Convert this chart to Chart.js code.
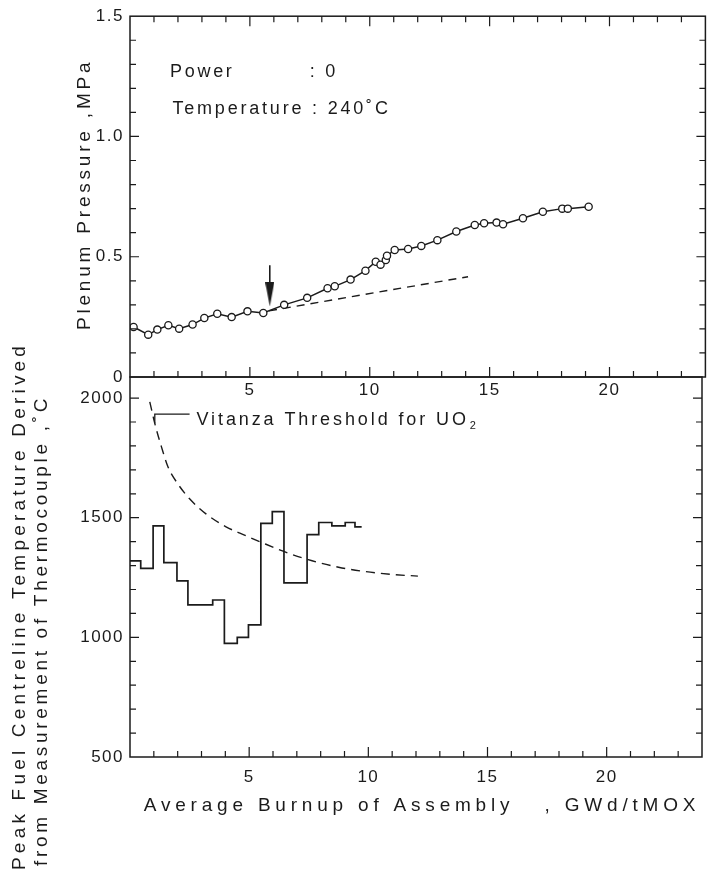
<!DOCTYPE html>
<html lang="en">
<head>
<meta charset="UTF-8">
<title>Plenum pressure and peak fuel centreline temperature vs burnup</title>
<script src="https://cdn.jsdelivr.net/npm/chart.js"></script>
<style>
  body { margin: 0; background: #fff; }
  #wrap { position: relative; width: 712px; height: 875px; }
  canvas { position: absolute; left: 0; }
</style>
</head>
<body>
<div id="wrap">
  <canvas id="pressureChart" width="712" height="405" style="top:0"></canvas>
  <canvas id="tempChart" width="712" height="555" style="top:320px"></canvas>
</div>
<script>
// plenum pressure (MPa) vs average assembly burnup (GWd/tMOX)
const pressBurnup = [0.15, 0.76, 1.14, 1.6, 2.05, 2.61, 3.1, 3.64, 4.24, 4.9, 5.56, 6.43, 7.39, 8.24, 8.54,
  9.2, 9.82, 10.25, 10.45, 10.67, 10.72, 11.04, 11.6, 12.15, 12.82, 13.61, 14.38, 14.77, 15.29, 15.56,
  16.39, 17.22, 18.03, 18.26, 19.13];
const pressure = [0.208, 0.176, 0.197, 0.215, 0.201, 0.218, 0.245, 0.263, 0.249, 0.273, 0.266, 0.300, 0.329, 0.369, 0.377,
  0.405, 0.442, 0.479, 0.467, 0.486, 0.504, 0.528, 0.532, 0.545, 0.569, 0.605, 0.632, 0.639, 0.642, 0.635,
  0.660, 0.687, 0.700, 0.700, 0.708];

// extrapolation of the early pressure rise
const trendBurnup = [5.8, 14.1];
const trendPressure = [0.275, 0.417];

// arrow at onset of fission gas release
const arrowBurnup = [5.83, 5.83];
const arrowPressure = [0.465, 0.343];

// peak fuel centreline temperature, step history
const stepBurnup = [0, 0.45, 0.97, 1.42, 1.97, 2.43, 3.47, 3.96, 4.5, 4.97, 5.49, 5.97, 6.46, 7.43, 7.92, 8.47, 9.03, 9.44, 9.72];
const stepTemp = [1320, 1288, 1466, 1312, 1236, 1136, 1156, 975, 1000, 1052, 1476, 1525, 1228, 1429, 1480, 1466, 1480, 1462, 1462];

// Vitanza threshold for UO2
const vitBurnup = [0.83, 1.04, 1.32, 1.6, 2.01, 2.5, 3.2, 4.03, 4.86, 5.49, 6.53, 7.64, 8.75, 9.86, 10.97, 12.08];
const vitTemp = [1984, 1894, 1796, 1711, 1641, 1579, 1515, 1462, 1425, 1398, 1356, 1320, 1293, 1275, 1263, 1256];

// leader from label to threshold curve
const leaderBurnup = [1.04, 1.04, 2.5];
const leaderTemp = [1894, 1933, 1933];

const xTicks = [5, 10, 15, 20];
const pressTicks = [0, 0.5, 1.0, 1.5];
const tempTicks = [500, 1000, 1500, 2000];

const INK = '#1b1b1b';
const FONT = '"Liberation Sans", Arial, Helvetica, sans-serif';
Chart.defaults.font.family = FONT;
Chart.defaults.font.size = 17;
Chart.defaults.color = INK;

const pts = (xs, ys) => xs.map((x, i) => ({ x, y: ys[i] }));
const near = (v, step) => Math.abs(v / step - Math.round(v / step)) < 1e-6;

// narrow filled arrow head, pointing down
const arrowHead = document.createElement('canvas');
arrowHead.width = 9; arrowHead.height = 24;
(function () {
  const c = arrowHead.getContext('2d');
  c.fillStyle = INK;
  c.beginPath(); c.moveTo(0, 0); c.lineTo(9, 0); c.lineTo(4.5, 24); c.closePath(); c.fill();
})();

// letter spacing for library-drawn text
const tracking = {
  id: 'tracking',
  beforeUpdate(chart) { chart.ctx.letterSpacing = '1.5px'; },
  beforeDraw(chart) { chart.ctx.letterSpacing = '1.5px'; }
};

// frame round the plot with inward ticks
const boxTicks = {
  id: 'boxTicks',
  afterDraw(chart, args, opts) {
    const { ctx, chartArea: a, scales: { x, y } } = chart;
    ctx.save();
    ctx.strokeStyle = INK;
    ctx.lineWidth = 1.5;
    ctx.strokeRect(a.left, a.top, a.width, a.height);
    ctx.lineWidth = 1.2;
    ctx.beginPath();
    x.ticks.forEach(t => {
      if (t.value <= x.min || t.value >= x.max) return;
      const px = x.getPixelForValue(t.value);
      const len = near(t.value, 5) ? 10 : 6;
      ctx.moveTo(px, a.bottom); ctx.lineTo(px, a.bottom - len);
      if (opts.top) { ctx.moveTo(px, a.top); ctx.lineTo(px, a.top + len); }
    });
    y.ticks.forEach(t => {
      if (t.value <= y.min || t.value >= y.max) return;
      const py = y.getPixelForValue(t.value);
      const len = near(t.value, opts.yMajor) ? 9 : 6;
      ctx.moveTo(a.left, py); ctx.lineTo(a.left + len, py);
      ctx.moveTo(a.right, py); ctx.lineTo(a.right - len, py);
    });
    ctx.stroke();
    ctx.restore();
  }
};

function label(ctx, text, x, y, size, spacing, align) {
  ctx.font = size + 'px ' + FONT;
  ctx.letterSpacing = spacing + 'px';
  ctx.textAlign = align || 'left';
  ctx.fillText(text, x, y);
}

const pressureNotes = {
  id: 'pressureNotes',
  afterDraw(chart) {
    const { ctx, chartArea: a, scales: { x, y } } = chart;
    ctx.save();
    ctx.fillStyle = INK;
    ctx.textBaseline = 'middle';
    label(ctx, 'Power', x.getPixelForValue(1.67), y.getPixelForValue(1.269), 18, 2.7);
    label(ctx, ': 0', x.getPixelForValue(7.5), y.getPixelForValue(1.269), 18, 2.7);
    label(ctx, 'Temperature : 240˚C', x.getPixelForValue(1.77), y.getPixelForValue(1.112), 18, 2.8);
    ctx.translate(85, a.bottom - 47);
    ctx.rotate(-Math.PI / 2);
    label(ctx, 'Plenum Pressure ,MPa', 0, 0, 19, 3.8);
    ctx.restore();
  }
};

const tempNotes = {
  id: 'tempNotes',
  afterDraw(chart) {
    const { ctx, chartArea: a, scales: { x, y } } = chart;
    ctx.save();
    ctx.fillStyle = INK;
    ctx.textBaseline = 'middle';
    const lx = x.getPixelForValue(2.79), ly = y.getPixelForValue(1908);
    label(ctx, 'Vitanza Threshold for UO', lx, ly, 18, 2.9);
    const w = ctx.measureText('Vitanza Threshold for UO').width;
    label(ctx, '2', lx + w + 1, ly + 6, 11, 0);
    label(ctx, 'Average Burnup of Assembly   , GWd/tMOX', (a.left + a.right) / 2 + 6, a.bottom + 49, 19, 4.8, 'center');
    ctx.save();
    ctx.translate(20, a.bottom + 113);
    ctx.rotate(-Math.PI / 2);
    label(ctx, 'Peak Fuel Centreline Temperature Derived', 0, 0, 19, 4.2);
    ctx.restore();
    ctx.translate(42, a.bottom + 109);
    ctx.rotate(-Math.PI / 2);
    label(ctx, 'from Measurement of Thermocouple ,˚C', 0, 0, 19, 3.7);
    ctx.restore();
  }
};

function xScale(padding, height) {
  return {
    type: 'linear', min: 0, max: 24,
    grid: { display: false, drawTicks: false },
    border: { display: false },
    afterFit: s => { s.height = height; },
    ticks: {
      stepSize: 1, autoSkip: false, minRotation: 0, maxRotation: 0, padding: padding,
      callback: v => xTicks.includes(v) ? String(v) : ''
    }
  };
}

function yScale(min, max, step, padding, fmt) {
  return {
    type: 'linear', min: min, max: max,
    grid: { display: false, drawTicks: false },
    border: { display: false },
    afterFit: s => { s.width = 130; },
    afterBuildTicks: s => { s.ticks = s.ticks.filter(t => near(t.value, step)); },
    ticks: { stepSize: step, autoSkip: false, padding: padding, callback: fmt }
  };
}

new Chart(document.getElementById('pressureChart'), {
  type: 'line',
  data: {
    datasets: [{
      data: pts(pressBurnup, pressure),
      borderColor: INK, borderWidth: 1.5,
      pointRadius: 3.6, pointBorderWidth: 1.3,
      pointBackgroundColor: '#fff', pointBorderColor: INK
    }, {
      data: pts(trendBurnup, trendPressure),
      borderColor: INK, borderWidth: 1.4, borderDash: [8, 6], pointRadius: 0
    }, {
      data: pts(arrowBurnup, arrowPressure),
      borderColor: INK, borderWidth: 1.6,
      pointRadius: [0, 5], pointStyle: arrowHead
    }]
  },
  options: {
    responsive: false, animation: false,
    events: [],
    layout: { padding: { top: 14, right: 4, left: 0, bottom: 0 } },
    plugins: { legend: { display: false }, tooltip: { enabled: false }, boxTicks: { top: true, yMajor: 0.5 } },
    scales: {
      x: xScale(3, 28),
      y: yScale(0, 1.5, 0.1, 6, v => {
        const hit = pressTicks.find(p => Math.abs(p - v) < 1e-6);
        return hit === undefined ? '' : (hit === 0 ? '0' : hit.toFixed(1));
      })
    }
  },
  plugins: [tracking, boxTicks, pressureNotes]
});

new Chart(document.getElementById('tempChart'), {
  type: 'line',
  data: {
    datasets: [{
      data: pts(stepBurnup, stepTemp),
      stepped: 'before',
      borderColor: INK, borderWidth: 1.7, pointRadius: 0
    }, {
      data: pts(vitBurnup, vitTemp),
      cubicInterpolationMode: 'monotone',
      borderColor: INK, borderWidth: 1.4, borderDash: [9, 6], pointRadius: 0
    }, {
      data: pts(leaderBurnup, leaderTemp),
      borderColor: INK, borderWidth: 1.3, pointRadius: 0
    }]
  },
  options: {
    responsive: false, animation: false,
    events: [],
    layout: { padding: { top: 57, right: 4, left: 0, bottom: 0 } },
    plugins: { legend: { display: false }, tooltip: { enabled: false }, boxTicks: { top: false, yMajor: 500 } },
    scales: {
      x: xScale(10, 118),
      y: yScale(500, 2088, 100, 6, v => tempTicks.includes(v) ? String(v) : '')
    }
  },
  plugins: [tracking, boxTicks, tempNotes]
});
</script>
</body>
</html>
